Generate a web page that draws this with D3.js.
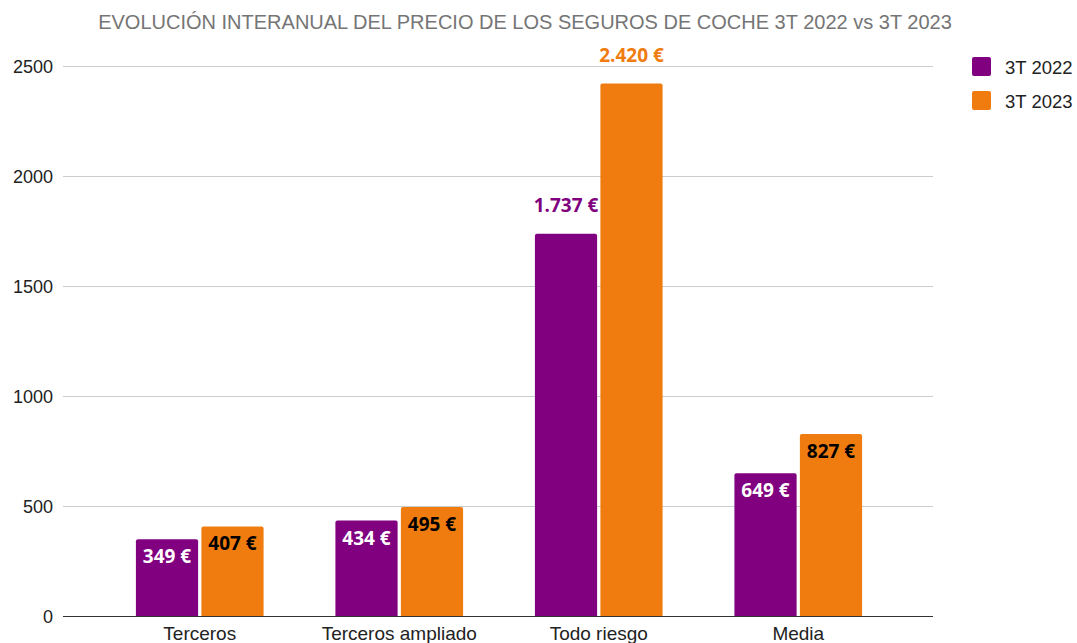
<!DOCTYPE html>
<html>
  <head>
    <meta charset="utf-8">
    <title>Evolución interanual del precio de los seguros de coche</title>
    <style>
      body { margin: 0; background: #fff; }
      svg { display: block; }
      text { font-family: "Liberation Sans", Arial, sans-serif; }
      .title { fill: #757575; font-size: 20px; }
      .tick text { fill: #222; font-size: 18px; }
      .legendText { fill: #222; font-size: 18.5px; }
      .barLabel { font-family: "Open Sans", sans-serif; font-weight: bold; font-size: 19px; }
    </style>
  </head>
  <body>
    <svg width="1077" height="643"></svg>
    <script src="https://d3js.org/d3.v7.min.js"></script>
    <script>
      var categories = [ 'Terceros', 'Terceros ampliado', 'Todo riesgo', 'Media' ];
      var seriesNames = [ '3T 2022', '3T 2023' ];
      var values2022 = [ 349, 434, 1737, 649 ];
      var values2023 = [ 407, 495, 2420, 827 ];
      var labels2022 = [ '349 €', '434 €', '1.737 €', '649 €' ];
      var labels2023 = [ '407 €', '495 €', '2.420 €', '827 €' ];
      var yTicks = [ 0, 500, 1000, 1500, 2000, 2500 ];

      var colors = [ '#800080', '#f07c10' ];
      var insideText = [ '#ffffff', '#000000' ];

      var svg = d3.select( 'svg' );
      var plotLeft = 63, plotRight = 933, plotTop = 66, plotBottom = 616;

      var x0 = d3.scaleBand().domain( categories ).range( [ 100, 898 ] )
        .paddingInner( 0.36 ).paddingOuter( 0.18 );
      var x1 = d3.scaleBand().domain( seriesNames ).range( [ 0, x0.bandwidth() ] ).paddingInner( 0.05 );
      var y = d3.scaleLinear().domain( [ 0, 2500 ] ).range( [ plotBottom, plotTop ] );

      svg.append( 'text' )
        .classed( 'title', true )
        .attr( 'x', 525 )
        .attr( 'y', 29 )
        .attr( 'text-anchor', 'middle' )
        .text( 'EVOLUCIÓN INTERANUAL DEL PRECIO DE LOS SEGUROS DE COCHE 3T 2022 vs 3T 2023' );

      // grid + y labels
      var yAxis = svg.append( 'g' )
        .attr( 'transform', 'translate( ' + plotLeft + ', 0 )' )
        .call( d3.axisLeft( y ).tickValues( yTicks ).tickFormat( d3.format( 'd' ) ).tickSize( -( plotRight - plotLeft ) ).tickPadding( 10 ) );
      yAxis.select( '.domain' ).remove();
      yAxis.selectAll( '.tick line' ).attr( 'stroke', function( d ) { return d === 0 ? '#333' : '#ccc'; } );
      yAxis.selectAll( '.tick text' ).attr( 'dy', '0.36em' ).attr( 'fill', '#222' );

      var rows = categories.map( function( c, i ) {
        return { cat: c, vals: [ values2022[i], values2023[i] ], labels: [ labels2022[i], labels2023[i] ] };
      } );

      function barPath( x, yTop, w, h, r ) {
        return 'M' + x + ',' + ( yTop + h ) + 'V' + ( yTop + r ) + 'Q' + x + ',' + yTop + ' ' + ( x + r ) + ',' + yTop +
          'H' + ( x + w - r ) + 'Q' + ( x + w ) + ',' + yTop + ' ' + ( x + w ) + ',' + ( yTop + r ) + 'V' + ( yTop + h ) + 'Z';
      }

      var groups = svg.selectAll( '.group' )
        .data( rows )
        .enter()
        .append( 'g' )
          .attr( 'transform', function( d ) { return 'translate( ' + x0( d.cat ) + ', 0 )'; } );

      seriesNames.forEach( function( s, si ) {
        groups.append( 'path' )
          .attr( 'fill', colors[si] )
          .attr( 'd', function( d ) {
            return barPath( x1( s ), y( d.vals[si] ), x1.bandwidth(), plotBottom - y( d.vals[si] ), 2 );
          } );
        groups.append( 'text' )
          .classed( 'barLabel', true )
          .attr( 'text-anchor', 'middle' )
          .attr( 'x', x1( s ) + x1.bandwidth() / 2 )
          .attr( 'y', function( d ) {
            var inside = d.vals[si] < 1000;
            return y( d.vals[si] ) + ( inside ? 24 : -22 );
          } )
          .attr( 'fill', function( d ) { return d.vals[si] < 1000 ? insideText[si] : colors[si]; } )
          .text( function( d ) { return d.labels[si]; } );
      } );

      // baseline on top of bars
      svg.append( 'line' )
        .attr( 'x1', plotLeft ).attr( 'x2', plotRight )
        .attr( 'y1', y( 0 ) + 0.5 ).attr( 'y2', y( 0 ) + 0.5 )
        .attr( 'stroke', '#333' );

      var xAxis = svg.append( 'g' )
        .attr( 'transform', 'translate( 0, ' + plotBottom + ' )' )
        .call( d3.axisBottom( x0 ).tickSize( 0 ) );
      xAxis.select( '.domain' ).remove();
      xAxis.selectAll( '.tick text' ).attr( 'y', 24 ).attr( 'dy', 0 ).attr( 'fill', '#222' ).style( 'font-size', '19px' );

      var legend = svg.append( 'g' ).attr( 'transform', 'translate( 972, 57 )' );
      seriesNames.forEach( function( s, i ) {
        legend.append( 'rect' )
          .attr( 'x', 0 ).attr( 'y', i * 34 )
          .attr( 'width', 19 ).attr( 'height', 19 )
          .attr( 'rx', 2 )
          .attr( 'fill', colors[i] );
        legend.append( 'text' )
          .classed( 'legendText', true )
          .attr( 'x', 33 ).attr( 'y', i * 34 + 10 )
          .attr( 'dy', '0.36em' )
          .text( s );
      } );
    </script>
  </body>
</html>
